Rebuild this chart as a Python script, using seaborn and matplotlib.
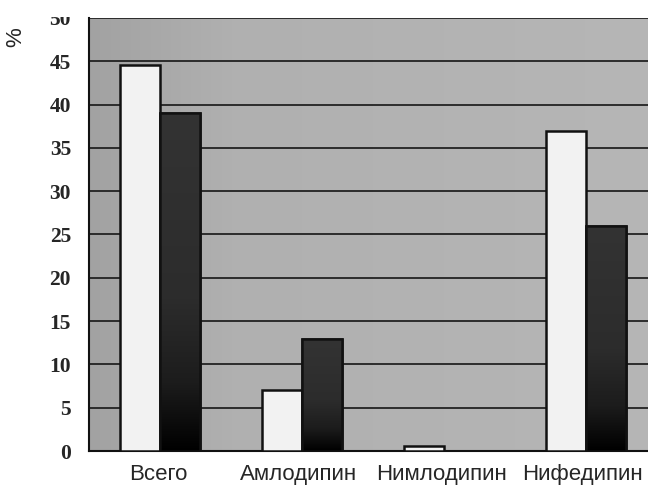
import numpy as np
import pandas as pd
import matplotlib
matplotlib.use("Agg")
import matplotlib.pyplot as plt
import matplotlib.transforms as mtransforms
import seaborn as sns
from matplotlib.colors import LinearSegmentedColormap

categories = ["Всего", "Амлодипин", "Нимлодипин", "Нифедипин"]
series_names = ["Группа 1", "Группа 2"]
values_1 = [44.6, 7.1, 0.6, 37.0]
values_2 = [39.0, 12.9, 0.0, 26.0]
y_ticks = [0, 5, 10, 15, 20, 25, 30, 35, 40, 45, 50]
y_label = "%"

df = pd.DataFrame({
    "cat": categories * 2,
    "series": [series_names[0]] * 4 + [series_names[1]] * 4,
    "val": values_1 + values_2,
})

sns.set_theme(style="white")
plt.rcParams['font.family'] = ['Liberation Sans', 'DejaVu Sans']

fig = plt.figure(figsize=(6.48, 4.86), dpi=100)
ax = fig.add_axes([89/648, 35/486, 568/648, 433/486])

# gradient background
grad = np.linspace(0, 1, 256).reshape(1, -1)
bg_cmap = LinearSegmentedColormap.from_list("bg", [(0, "#a2a2a2"), (0.25, "#b0b0b0"), (1, "#b6b6b6")])
ax.imshow(grad, extent=[-0.5, 3.5, 0, 50], aspect="auto", cmap=bg_cmap, zorder=0)

sns.barplot(data=df, x="cat", y="val", hue="series", hue_order=series_names,
            palette=["#f2f2f2", "#2e2e2e"], width=0.57, edgecolor="#111111",
            linewidth=1.8, saturation=1, ax=ax, legend=False, zorder=3)

# gradient on dark bars
dark_cmap = LinearSegmentedColormap.from_list(
    "dk", [(0, "#000000"), (0.2, "#1c1c1c"), (0.45, "#2c2c2c"), (1, "#333333")])
vgrad = np.linspace(0, 1, 256).reshape(-1, 1)
for p in ax.patches[4:8]:
    h = p.get_height()
    if h <= 0:
        continue
    x0 = p.get_x(); w = p.get_width()
    im = ax.imshow(vgrad, extent=[x0, x0 + w, 0, h], origin="lower", aspect="auto",
                   cmap=dark_cmap, zorder=3.5)
    im.set_clip_path(p)
    ax.add_patch(plt.Rectangle((x0, 0), w, h, fill=False, edgecolor="#111111",
                               linewidth=1.8, zorder=4))

ax.set_xlim(-0.5, 3.5)
ax.set_ylim(0, 50)
ax.set_yticks(y_ticks)
ax.set_yticklabels([str(t) for t in y_ticks], family=["Liberation Serif"], fontsize=15.5,
                   fontweight="bold")
for y in y_ticks[1:]:
    ax.axhline(y, color="#222222", linewidth=1.3, zorder=2)

ax.set_xticks([-0.5, 0.5, 1.5, 2.5, 3.5], minor=True)
ax.set_xticks(range(4))
ax.set_xticklabels(categories, fontsize=16)
ax.tick_params(axis="x", which="major", length=0, pad=9)
ax.tick_params(axis="x", which="minor", length=6, width=1.2, color="#111111", direction="out")
ax.tick_params(axis="y", length=7, width=1.2, color="#111111", direction="out", pad=6)
ax.set_xlabel("")
ax.set_ylabel("")

shifts = [-2, -3, -3, -4]
for lab, dx in zip(ax.get_xticklabels(), shifts):
    lab.set_transform(lab.get_transform() + mtransforms.ScaledTranslation(dx / 100, 0, fig.dpi_scale_trans))

for s in ["top", "right"]:
    ax.spines[s].set_visible(False)
for s in ["left", "bottom"]:
    ax.spines[s].set_color("#111111")
    ax.spines[s].set_linewidth(1.5)

fig.text(16/648, 1 - 37/486, y_label, rotation=90, fontsize=16, ha="center", va="center")

# top strip of the original image is cropped away (clips the "50" label)
fig.patches.append(plt.Rectangle((0, 1 - 17/486), 0.13, 17/486, transform=fig.transFigure,
                                 facecolor="white", edgecolor="none", zorder=10))

fig.savefig("out.png", dpi=100)
